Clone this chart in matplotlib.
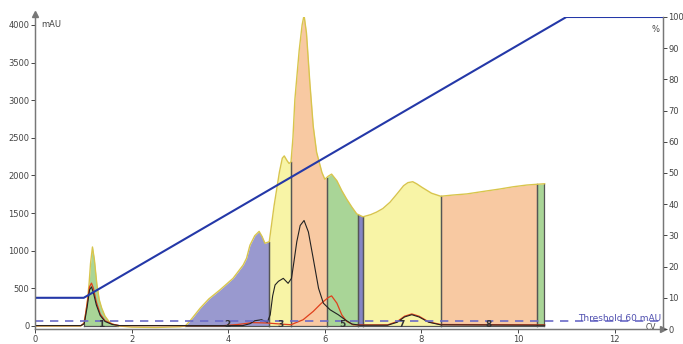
import numpy as np
from matplotlib import pyplot as plt

# UV trace (mAU) vs column volumes
uv_x = [0.0, 0.95, 1.01, 1.05, 1.08, 1.12, 1.15, 1.19, 1.23, 1.28, 1.33, 1.38, 1.45, 1.55, 1.65, 1.75,
        2.0, 2.5, 3.0, 3.11, 3.2, 3.42, 3.6, 3.83, 4.1, 4.31, 4.38, 4.45, 4.55, 4.64, 4.70, 4.76, 4.85,
        4.95, 5.06, 5.12, 5.16, 5.22, 5.26, 5.30, 5.34, 5.38, 5.47, 5.53, 5.57, 5.62, 5.69, 5.76, 5.83,
        5.94, 6.00, 6.07, 6.14, 6.25, 6.35, 6.45, 6.56, 6.66, 6.79, 6.95, 7.07, 7.2, 7.35, 7.5, 7.63,
        7.72, 7.82, 7.9, 8.01, 8.21, 8.40, 8.65, 8.94, 9.3, 9.63, 9.9, 10.18, 10.39, 10.55]
uv_y = [0, 0, 30, 170, 300, 560, 830, 1050, 880, 560, 350, 240, 130, 45, 12, 0,
        -15, -20, -10, 0, 60, 237, 360, 480, 633, 810, 900, 1073, 1200, 1257, 1190, 1100, 1120,
        1600, 2045, 2230, 2260, 2195, 2160, 2180, 2500, 3008, 3667, 4000, 4129, 3892, 3232, 2655, 2309,
        2040, 1950, 1990, 2018, 1930, 1800, 1689, 1580, 1490, 1451, 1480, 1513, 1560, 1645, 1760, 1864,
        1905, 1917, 1890, 1843, 1764, 1724, 1740, 1755, 1790, 1821, 1850, 1873, 1883, 1890]

# second detector trace (black)
uv2_x = [0, 0.95, 1.02, 1.08, 1.13, 1.17, 1.21, 1.27, 1.35, 1.45, 1.6, 1.75, 4.3, 4.45, 4.55, 4.69,
         4.81, 4.87, 4.92, 4.97, 5.04, 5.14, 5.24, 5.31, 5.36, 5.42, 5.49, 5.57, 5.66, 5.76, 5.87,
         5.97, 6.11, 6.28, 6.42, 6.56, 6.73, 7.3, 7.5, 7.65, 7.8, 7.95, 8.15, 8.4, 10.55]
uv2_y = [5, 5, 30, 250, 480, 520, 440, 280, 140, 60, 20, 5, 5, 30, 70, 83,
         50, 150, 400, 545, 594, 633, 567, 633, 850, 1121, 1336, 1402, 1249, 897, 501,
         303, 215, 149, 83, 26, 10, 10, 50, 120, 150, 120, 50, 15, 10]

# third detector trace (red)
uv3_x = [0, 0.95, 1.02, 1.08, 1.13, 1.17, 1.21, 1.27, 1.35, 1.45, 1.6, 1.75, 3.9, 4.2, 4.5, 4.8,
         5.1, 5.3, 5.55, 5.76, 5.93, 6.07, 6.14, 6.25, 6.35, 6.45, 6.59, 7.3, 7.5, 7.65, 7.8, 7.95,
         8.15, 8.4, 10.55]
uv3_y = [5, 5, 40, 300, 520, 570, 500, 320, 160, 70, 25, 5, 5, 20, 45, 40,
         25, 17, 83, 194, 303, 378, 400, 303, 149, 62, 15, 15, 60, 130, 160, 130,
         55, 20, 15]

# gradient (% B)
grad_x = [0, 1.01, 11.0, 13.0]
grad_y = [10, 10, 100, 100]

# collected fractions
frac_start = [1.01, 3.11, 4.85, 5.30, 6.04, 6.69, 6.78, 8.40, 10.39]
frac_end = [1.71, 4.85, 5.30, 6.04, 6.69, 6.78, 8.40, 10.39, 10.54]
frac_names = ['1', '2', '3', '', '5', '', '7', '8', '']
threshold = 60

frac_colors = ['#a9d597', '#9999cf', '#f8f4a6', '#f8c9a2']

fig = plt.figure(figsize=(6.83, 3.44), dpi=100)
ax = fig.add_axes([0.0512, 0.0436, 0.9195, 0.907])
ax2 = ax.twinx()

xs = np.array(uv_x)
ys = np.array(uv_y)
for i, (a, b) in enumerate(zip(frac_start, frac_end)):
    c = frac_colors[i % 4]
    if i == 5:
        c = '#8585c4'
    xx = np.concatenate(([a], xs[(xs > a) & (xs < b)], [b]))
    yy = np.interp(xx, xs, ys)
    ax.fill_between(xx, 0, yy, color=c, lw=0, zorder=1)
    for e in (a, b):
        ax.plot([e, e], [0, np.interp(e, xs, ys)], color='#555555', lw=0.9, zorder=2)
    ax.plot([a, b], [0, 0], color='#555555', lw=0.9, zorder=2)
    if frac_names[i]:
        ax.text((a + b) / 2, 15, frac_names[i], ha='center', va='center', fontsize=6.5,
                fontweight='bold', color='#333333', zorder=5)

ax.plot(uv_x, uv_y, color='#d8c54c', lw=1.0, zorder=3)
ax.plot(uv3_x, uv3_y, color='#e0401c', lw=0.9, zorder=4)
ax.plot(uv2_x, uv2_y, color='#222222', lw=0.8, zorder=4)
ax.axhline(threshold, color='#6b6bc8', lw=1.2, dashes=(5, 4), zorder=4)
ax.text(12.97, threshold - 25, 'Threshold 60 mAU', ha='right', va='bottom', fontsize=6.5,
        color='#5050b0', zorder=6)
ax.text(12.75, -20, 'CV', ha='center', va='center', fontsize=5.5, color='#444444')
ax.text(0.12, 4000, 'mAU', ha='left', va='center', fontsize=6, color='#444444')

ax.set_xlim(0, 13)
ax.set_ylim(-40, 4106)
ax.set_xticks(range(0, 13, 2))
ax.set_yticks(range(0, 4001, 500))

ax2.plot(grad_x, grad_y, color='#2438a8', lw=1.5)
ax2.set_ylim(0, 100)
ax2.set_yticks(range(0, 101, 10))
ax2.text(12.85, 96, '%', ha='center', va='center', fontsize=6, color='#444444')

for a in (ax, ax2):
    a.spines['top'].set_visible(False)
    for s in a.spines.values():
        s.set_color('#777777')
        s.set_linewidth(0.9)
    a.tick_params(labelsize=6, colors='#444444', length=3, width=0.7, pad=1)

# axis arrows
ax.plot(0, 1.01, '^', color='#777777', ms=4, transform=ax.transAxes, clip_on=False)
ax.plot(1.0, 0, '>', color='#777777', ms=4, transform=ax.transAxes, clip_on=False)

fig.savefig('out.png', dpi=100)
